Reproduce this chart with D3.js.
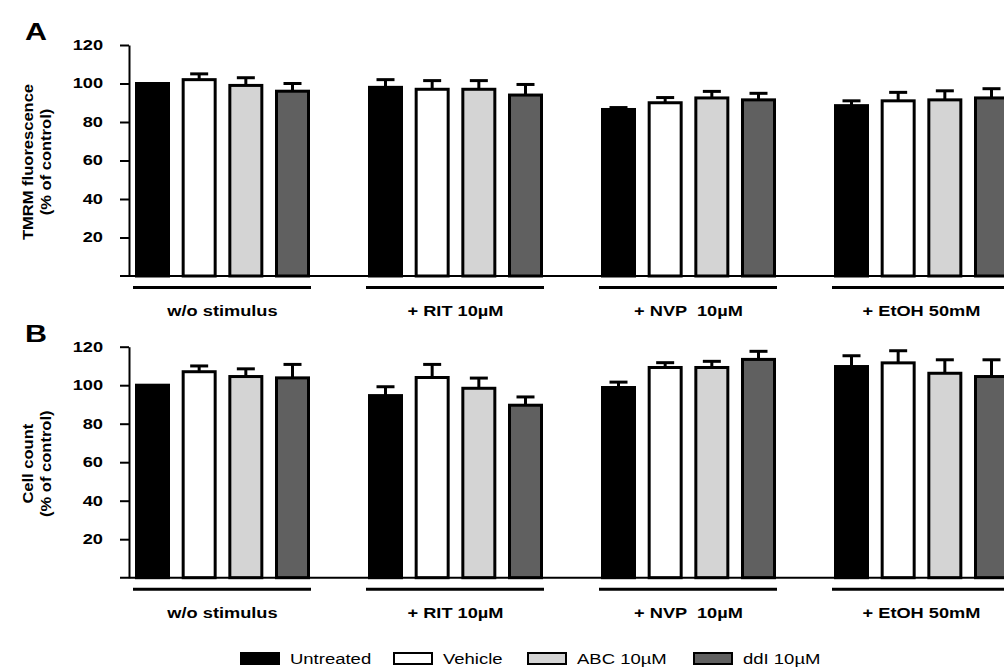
<!DOCTYPE html>
<html>
<head>
<meta charset="utf-8">
<script src="https://cdn.jsdelivr.net/npm/d3@7"></script>
<style>
  body { margin: 0; background: #fff; }
  svg { display: block; font-family: "Liberation Sans", Arial, sans-serif; }
</style>
</head>
<body>
<svg id="chart" width="1004" height="670"></svg>
<script>
// groups along the x axis and the four treatments
let groups = ["w/o stimulus", "+ RIT 10µM", "+ NVP  10µM", "+ EtOH 50mM"];
let series = ["Untreated", "Vehicle", "ABC 10µM", "ddI 10µM"];
let yTicks = [20, 40, 60, 80, 100, 120];

// panel A: TMRM fluorescence, one row per group, one value per series
let tmrmMean = [
  [100, 102, 99, 96],
  [98, 97, 97, 94],
  [86.5, 90, 92.5, 91.5],
  [88.5, 91, 91.5, 92.5]
];
let tmrmErr = [
  [0, 3, 4, 4],
  [4, 4.5, 4.5, 5.5],
  [1, 2.7, 3.4, 3.4],
  [2.5, 4.4, 4.7, 4.8]
];

// panel B: cell count
let cellMean = [
  [100, 107, 104.5, 103.8],
  [94.6, 104, 98.4, 89.6],
  [98.8, 109.2, 109.2, 113.4],
  [109.7, 111.6, 106.2, 104.5]
];
let cellErr = [
  [0, 3, 4, 7],
  [4.6, 6.8, 5.3, 4.3],
  [2.8, 2.5, 3.2, 4.2],
  [5.6, 6.3, 7, 8.7]
];

let colors = ["#000000", "#ffffff", "#d4d4d4", "#606060"];

let svg = d3.select("#chart");

let xScale = d3.scaleBand().domain(groups).range([135, 1009]).paddingInner(58 / 233);
let xInner = d3.scaleBand().domain(series).range([0, xScale.bandwidth()]).paddingInner(0.25);

let axisX = 129;

// the original figure's text is stretched sideways, so widen glyphs a bit
function stretch(sel, k) {
  sel.each(function() {
    let len = this.getComputedTextLength();
    d3.select(this)
      .attr("textLength", len * k)
      .attr("lengthAdjust", "spacingAndGlyphs");
  });
}

function drawPanel(letter, titleLines, means, errs, top, bottom) {
  let yScale = d3.scaleLinear().domain([0, 120]).range([bottom, top]);
  let g = svg.append("g");

  // panel letter
  g.append("text")
    .attr("x", 25)
    .attr("y", top - 5)
    .attr("textLength", 22)
    .attr("lengthAdjust", "spacingAndGlyphs")
    .style("font-size", "23px")
    .style("font-weight", "bold")
    .text(letter);

  // y axis title, two lines
  let midY = (top + bottom) / 2 + 1.5;
  titleLines.forEach(function(t, i) {
    g.append("text")
      .attr("transform", "translate(" + (33 + i * 18) + "," + midY + ") rotate(-90)")
      .attr("text-anchor", "middle")
      .style("font-size", "14px")
      .style("font-weight", "bold")
      .text(t)
      .call(stretch, 1.18);
  });

  // bars
  groups.forEach(function(grp, gi) {
    let gx = xScale(grp);
    series.forEach(function(s, si) {
      let v = means[gi][si];
      let e = errs[gi][si];
      let bx = gx + xInner(s);
      let cx = bx + xInner.bandwidth() / 2;
      if (e > 0) {
        g.append("line")
          .attr("x1", cx).attr("x2", cx)
          .attr("y1", yScale(v)).attr("y2", yScale(v + e))
          .style("stroke", "#000").style("stroke-width", 3);
        g.append("line")
          .attr("x1", cx - 9).attr("x2", cx + 9)
          .attr("y1", yScale(v + e)).attr("y2", yScale(v + e))
          .style("stroke", "#000").style("stroke-width", 3);
      }
      g.append("rect")
        .attr("x", bx + 1.5)
        .attr("y", yScale(v))
        .attr("width", xInner.bandwidth() - 3)
        .attr("height", yScale(0) - yScale(v))
        .style("fill", colors[si])
        .style("stroke", "#000")
        .style("stroke-width", 3);
    });

    // group underline and label
    g.append("line")
      .attr("x1", gx - 2).attr("x2", gx + xScale.bandwidth() + 1)
      .attr("y1", bottom + 11.5).attr("y2", bottom + 11.5)
      .style("stroke", "#000").style("stroke-width", 3);
    g.append("text")
      .attr("x", gx + xScale.bandwidth() / 2)
      .attr("y", bottom + 40)
      .attr("text-anchor", "middle")
      .style("font-size", "14px")
      .style("font-weight", "bold")
      .style("white-space", "pre")
      .text(grp)
      .call(stretch, 1.3);
  });

  // baseline
  g.append("line")
    .attr("x1", 120).attr("x2", 1004)
    .attr("y1", yScale(0)).attr("y2", yScale(0))
    .style("stroke", "#000").style("stroke-width", 2);

  // y axis
  let yAxis = d3.axisLeft(yScale).tickValues(yTicks).tickSize(9).tickSizeOuter(0).tickPadding(17);
  let ax = g.append("g")
    .attr("transform", "translate(" + axisX + ",0)")
    .call(yAxis);
  ax.select(".domain").style("stroke-width", 2);
  ax.selectAll(".tick line").style("stroke-width", 2);
  ax.selectAll(".tick text")
    .style("font-size", "14px")
    .style("font-weight", "bold")
    .style("font-family", "'Liberation Sans', Arial, sans-serif")
    .style("fill", "#000")
    .call(stretch, 1.3);
}

drawPanel("A", ["TMRM fluorescence", "(% of control)"], tmrmMean, tmrmErr, 45, 276);
drawPanel("B", ["Cell count", "(% of control)"], cellMean, cellErr, 346.7, 577.7);

// legend
let legendX = [240, 393, 527, 693];
let legend = svg.append("g");
series.forEach(function(s, i) {
  legend.append("rect")
    .attr("x", legendX[i] + 1)
    .attr("y", 653)
    .attr("width", 38)
    .attr("height", 11)
    .style("fill", colors[i])
    .style("stroke", "#000")
    .style("stroke-width", 2);
  legend.append("text")
    .attr("x", legendX[i] + 50)
    .attr("y", 664)
    .style("font-size", "14px")
    .text(s)
    .call(stretch, 1.32);
});
</script>
</body>
</html>
